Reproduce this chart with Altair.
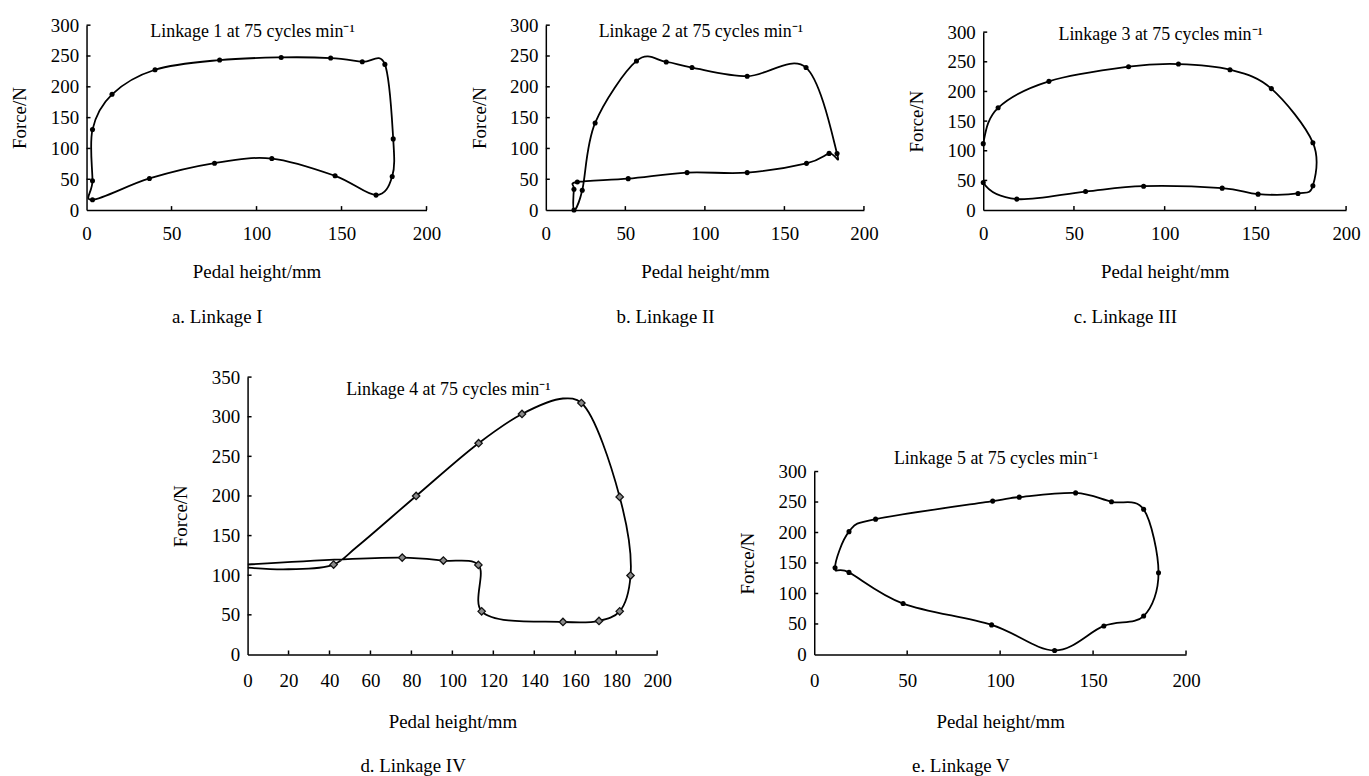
import altair as alt
import pandas as pd

FONT = "Liberation Serif"

# ---- data ----
a_x = [3.5, 3.5, 3.5, 15.0, 40.3, 78.3, 114.5, 143.6, 162.2, 175.5, 180.4, 179.8, 170.3, 146.2, 109.0, 75.3, 37.0]
a_y = [16.7, 47.5, 130.6, 187.8, 227.7, 243.4, 247.7, 246.6, 240.7, 236.4, 115.5, 54.5, 24.3, 55.6, 83.6, 76.1, 51.3]
a_m = [1] * 17

b_x = [17.7, 22.9, 31.0, 57.0, 75.7, 91.9, 126.6, 163.6, 183.1, 178.1, 163.9, 126.6, 88.8, 51.8, 19.8, 17.7]
b_y = [0.0, 32.3, 141.4, 242.0, 240.3, 231.2, 217.2, 231.2, 91.6, 92.0, 75.8, 60.8, 60.8, 51.0, 45.7, 33.9]
b_m = [1] * 16

c_x = [0.0, 8.2, 36.2, 80.1, 107.6, 136.0, 158.8, 181.7, 181.7, 173.5, 151.5, 131.7, 88.4, 56.4, 18.5, 0.0]
c_y = [112.0, 172.4, 217.0, 241.7, 246.2, 236.7, 204.8, 113.6, 40.9, 28.0, 26.9, 37.0, 40.3, 31.3, 18.5, 46.4]
c_m = [1] * 16

d_x = [0.0, 20.0, 42.0, 53.0, 82.3, 112.8, 134.0, 154.0, 163.0, 181.7, 187.0, 181.7, 171.6, 154.0, 114.3, 112.7, 95.6, 75.5, 0.0]
d_y = [109.5, 107.5, 113.4, 135.0, 200.0, 266.6, 303.5, 323.0, 317.3, 198.8, 99.6, 54.4, 42.3, 41.0, 54.4, 113.0, 118.5, 122.2, 113.5]
d_m = [0, 0, 1, 0, 1, 1, 1, 0, 1, 1, 1, 1, 1, 1, 1, 1, 1, 1, 0]

e_x = [11.2, 18.7, 33.0, 96.0, 110.3, 140.6, 159.9, 177.2, 185.2, 177.2, 155.8, 129.3, 95.4, 47.8, 18.7]
e_y = [142.2, 201.4, 221.9, 251.5, 258.0, 265.0, 250.4, 238.0, 134.0, 63.0, 46.8, 6.5, 48.5, 83.5, 134.6]
e_m = [1] * 15

titles = ["Linkage 1 at 75 cycles min\u207b\u00b9", "Linkage 2 at 75 cycles min\u207b\u00b9",
          "Linkage 3 at 75 cycles min\u207b\u00b9", "Linkage 4 at 75 cycles min\u207b\u00b9",
          "Linkage 5 at 75 cycles min\u207b\u00b9"]
captions = ["a. Linkage I", "b. Linkage II", "c. Linkage III", "d. Linkage IV", "e. Linkage V"]
x_ticks_50 = [0, 50, 100, 150, 200]
x_ticks_20 = [0, 20, 40, 60, 80, 100, 120, 140, 160, 180, 200]
y_ticks_300 = [0, 50, 100, 150, 200, 250, 300]
y_ticks_350 = [0, 50, 100, 150, 200, 250, 300, 350]


def txt(**kw):
    base = dict(titleFont=FONT, titleFontSize=19, titleFontWeight="normal", titleColor="black")
    base.update(kw)
    return base


def panel(xs, ys, ms, title, caption, width, height, xticks, yticks, range_top,
          interp, diamond, title_offset, label_pad, x_title_y, cap_y):
    df = pd.DataFrame({"x": xs, "y": ys, "m": ms, "i": list(range(len(xs)))})
    xsc = alt.Scale(domain=[0, 200], nice=False, zero=False)
    ysc = alt.Scale(domain=[0, yticks[-1]], nice=False, zero=False, range=[height, range_top])
    xaxis = alt.Axis(values=xticks, format="d", grid=False, ticks=False, domainColor="black",
                     domainWidth=1.5, labelFont=FONT, labelFontSize=19, labelColor="black",
                     labelPadding=label_pad, labelFlush=False, labelOverlap=False,
                     title="Pedal height/mm", titleY=x_title_y, titleBaseline="middle",
                     **txt())
    cap_axis = alt.Axis(orient="bottom", domain=False, ticks=False, labels=False, grid=False,
                        title=caption, titleX=width / 2 - 40, titleY=cap_y,
                        titleBaseline="middle", titleAlign="center", **txt())
    yaxis = alt.Axis(values=yticks, format="d", grid=False, ticks=False, domainColor="black",
                     domainWidth=1.5, labelFont=FONT, labelFontSize=19, labelColor="black",
                     labelPadding=8, labelOverlap=False, title="Force/N", titleX=-67,
                     titleBaseline="middle", **txt())
    X = alt.X("x:Q", scale=xsc, axis=xaxis)
    Xn = alt.X("x:Q", scale=xsc, axis=None)
    Xc = alt.X("x:Q", scale=xsc, axis=cap_axis)
    Y = alt.Y("y:Q", scale=ysc, axis=yaxis)
    line = alt.Chart(df).mark_line(interpolate=interp, color="black", strokeWidth=1.8,
                                   clip=True).encode(x=X, y=Y, order="i:Q")
    if diamond:
        pts = alt.Chart(df).transform_filter("datum.m == 1").mark_point(
            shape="diamond", filled=True, fill="#8a8a8a", stroke="#111111", strokeWidth=1.3,
            size=55, opacity=1).encode(x=Xc, y=Y)
    else:
        pts = alt.Chart(df).transform_filter("datum.m == 1").mark_point(
            shape="circle", filled=True, color="black", size=26, opacity=1).encode(x=Xc, y=Y)
    xt = alt.Chart(pd.DataFrame({"x": xticks[1:]})).mark_rule(color="black", strokeWidth=1.5).encode(
        x=Xn, y=alt.value(height), y2=alt.value(height - 4))
    yt = alt.Chart(pd.DataFrame({"y": yticks[1:]})).mark_rule(color="black", strokeWidth=1.5).encode(
        y=Y, x=alt.value(0), x2=alt.value(4))
    return alt.layer(line, xt, yt, pts).resolve_scale(x="independent").properties(
        width=width, height=height,
        title=alt.TitleParams(text=title, orient="top", anchor="middle", offset=title_offset,
                              baseline="alphabetic", font=FONT, fontSize=18, fontWeight="normal",
                              color="black", dx=-4))


pa = panel(a_x, a_y, a_m, titles[0], captions[0], 342, 186, x_ticks_50, y_ticks_300, 0,
           "cardinal-closed", False, -38.5, 14.5, 62, 107)
pb = panel(b_x, b_y, b_m, titles[1], captions[1], 320, 186, x_ticks_50, y_ticks_300, 0,
           "cardinal-closed", False, -38.5, 14.5, 62, 107)
pc = panel(c_x, c_y, c_m, titles[2], captions[2], 365, 186, x_ticks_50, y_ticks_300, 7,
           "cardinal-closed", False, -35.2, 14.5, 62, 107)
pd_ = panel(d_x, d_y, d_m, titles[3], captions[3], 412, 279, x_ticks_20, y_ticks_350, 0,
            "catmull-rom", True, -44.9, 17, 67.5, 112)
pe = panel(e_x, e_y, e_m, titles[4], captions[4], 374, 279, x_ticks_50, y_ticks_300, 95,
           "cardinal-closed", False, -105.4, 17, 67.5, 112)

spacer = alt.Chart(pd.DataFrame({"x": [0]})).mark_point(opacity=0).encode(
    x=alt.X("x:Q", axis=None), y=alt.Y("x:Q", axis=None)).properties(width=4, height=10)

row1 = alt.hconcat(pa, pb, pc, spacing=120, bounds="flush")
row2 = alt.hconcat(spacer, pd_, pe, spacing=158, bounds="flush")

chart = alt.vconcat(row1, row2, spacing=42).properties(
    padding={"left": 3, "top": 6, "right": 0, "bottom": 0}
).configure_view(stroke=None)

chart.save("out.html", embed_options={"renderer": "svg", "actions": False})
